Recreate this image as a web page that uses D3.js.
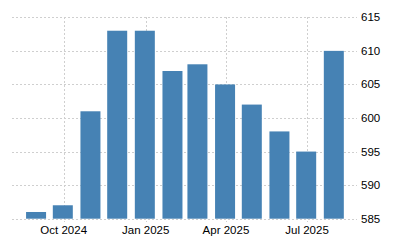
<!DOCTYPE html>
<html>
<head>
<meta charset="utf-8">
<script src="https://cdn.jsdelivr.net/npm/d3@7"></script>
<style>
  html, body { margin: 0; padding: 0; background: #fff; }
  svg { display: block; }
  text { font-family: "Liberation Sans", Arial, sans-serif; font-size: 11.5px; fill: #000; }
</style>
</head>
<body>
<div id="chart"></div>
<script>
// month-end observation dates and values
const dates = ["2024-08-31", "2024-09-30", "2024-10-31", "2024-11-30", "2024-12-31", "2025-01-31",
  "2025-02-28", "2025-03-31", "2025-04-30", "2025-05-31", "2025-06-30", "2025-07-31"];
const values = [586, 587, 601, 613, 613, 607, 608, 605, 602, 598, 595, 610];
const xTickDates = ["2024-10-01", "2025-01-01", "2025-04-01", "2025-07-01"];
const xTickLabels = ["Oct 2024", "Jan 2025", "Apr 2025", "Jul 2025"];
const yTicks = [585, 590, 595, 600, 605, 610, 615];

const W = 400, H = 250;
const parse = d3.utcParse("%Y-%m-%d");

const svg = d3.select("#chart").append("svg")
  .attr("width", W).attr("height", H);

const x = d3.scaleUtc()
  .domain([parse("2024-08-04"), parse("2025-08-26")])
  .range([12, 357]);
const y = d3.scaleLinear()
  .domain([585, 615])
  .range([218.7, 17.3]);

const barW = 20;

// horizontal grid
svg.append("g").selectAll("line").data(yTicks).join("line")
  .attr("x1", 12).attr("x2", 357)
  .attr("y1", d => Math.round(y(d)) + 0.5).attr("y2", d => Math.round(y(d)) + 0.5)
  .attr("stroke", "#cfcfcf").attr("stroke-dasharray", "2,2");

// vertical grid
svg.append("g").selectAll("line").data(xTickDates).join("line")
  .attr("x1", d => Math.round(x(parse(d))) + 0.5).attr("x2", d => Math.round(x(parse(d))) + 0.5)
  .attr("y1", 17).attr("y2", 222)
  .attr("stroke", "#cfcfcf").attr("stroke-dasharray", "2,2");

// bars
svg.append("g").selectAll("rect").data(values).join("rect")
  .attr("x", (d, i) => x(parse(dates[i])) - barW / 2)
  .attr("width", barW)
  .attr("y", d => y(d))
  .attr("height", d => y(585) - y(d))
  .attr("fill", "#4682b4");

// y labels on right
svg.append("g").selectAll("text").data(yTicks).join("text")
  .attr("x", 361).attr("y", d => y(d) + 4)
  .text(d => d);

// x labels
svg.append("g").selectAll("text").data(xTickDates).join("text")
  .attr("x", d => x(parse(d)))
  .attr("y", 234)
  .attr("text-anchor", "middle")
  .text((d, i) => xTickLabels[i]);
</script>
</body>
</html>
